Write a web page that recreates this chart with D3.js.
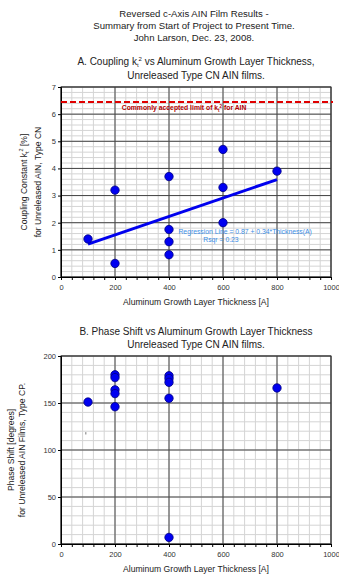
<!DOCTYPE html>
<html>
<head>
<meta charset="utf-8">
<script src="https://cdn.jsdelivr.net/npm/d3@7"></script>
<style>
  body { margin: 0; background: #fff; }
  svg { display: block; font-family: "Liberation Sans", Arial, sans-serif; }
</style>
</head>
<body>
<svg id="chart" width="339" height="578"></svg>
<script>
// chart A: coupling constant vs thickness
const couplingThickness = [100, 200, 200, 400, 400, 400, 400, 600, 600, 600, 800];
const couplingValues = [1.4, 3.2, 0.5, 3.7, 1.75, 1.3, 0.82, 4.7, 3.3, 2.0, 3.9];
const regressionEnds = [100, 800];
const regIntercept = 0.87, regSlope = 0.34; // per 100 A
const k2Limit = 6.45;

// chart B: phase shift vs thickness
const phaseThickness = [100, 200, 200, 200, 200, 200, 400, 400, 400, 400, 400, 800];
const phaseValues = [151, 180, 177, 164, 160, 146, 179, 176, 172, 155, 7, 166];

const xTicks = [0, 200, 400, 600, 800, 1000];
const yTicksA = [0, 1, 2, 3, 4, 5, 6, 7];
const yTicksB = [0, 50, 100, 150, 200];

const svg = d3.select('#chart');

// page titles
const titles = [
  ['Reversed c-Axis AIN Film Results -', 17],
  ['Summary from Start of Project to Present Time.', 29],
  ['John Larson, Dec. 23, 2008.', 41]
];
titles.forEach(([t, y]) => {
  svg.append('text').attr('x', 194).attr('y', y).attr('text-anchor', 'middle')
    .attr('font-size', 9.6).attr('fill', '#222').text(t);
});

function drawPanel(opt) {
  const x = d3.scaleLinear().domain([0, 1000]).range([61, 331]);
  const y = d3.scaleLinear().domain(opt.yDomain).range([opt.bottom, opt.top]);
  const g = svg.append('g');

  // minor grid
  const xMinor = d3.range(0, 1001, 40);
  const yMinor = d3.range(opt.yDomain[0], opt.yDomain[1] + 1e-9, opt.yMinorStep);
  g.append('g').selectAll('line').data(xMinor).join('line')
    .attr('x1', d => x(d)).attr('x2', d => x(d))
    .attr('y1', opt.top).attr('y2', opt.bottom)
    .attr('stroke', '#d4d4d4').attr('stroke-width', 1);
  g.append('g').selectAll('line').data(yMinor).join('line')
    .attr('y1', d => y(d)).attr('y2', d => y(d))
    .attr('x1', 61).attr('x2', 331)
    .attr('stroke', '#d4d4d4').attr('stroke-width', 1);

  // major grid
  g.append('g').selectAll('line').data(xTicks).join('line')
    .attr('x1', d => x(d)).attr('x2', d => x(d))
    .attr('y1', opt.top).attr('y2', opt.bottom)
    .attr('stroke', '#444').attr('stroke-width', 1);
  g.append('g').selectAll('line').data(opt.yTicks).join('line')
    .attr('y1', d => y(d)).attr('y2', d => y(d))
    .attr('x1', 61).attr('x2', 331)
    .attr('stroke', '#444').attr('stroke-width', 1);

  // frame
  g.append('rect').attr('x', 61).attr('y', opt.top)
    .attr('width', 270).attr('height', opt.bottom - opt.top)
    .attr('fill', 'none').attr('stroke', '#333').attr('stroke-width', 1);

  // axes
  const xAxis = g.append('g').attr('transform', `translate(0,${opt.bottom})`)
    .call(d3.axisBottom(x).tickValues(xMinor).tickSize(3).tickFormat(d => xTicks.includes(d) ? d : ''));
  xAxis.select('.domain').attr('stroke', '#000');
  xAxis.selectAll('.tick line').attr('stroke', '#000');
  xAxis.selectAll('text').attr('font-size', 7.5).attr('fill', '#333').attr('dy', '0.9em')
    .attr('font-family', '"Liberation Sans", Arial, sans-serif');

  const yAxis = g.append('g').attr('transform', 'translate(61,0)')
    .call(d3.axisLeft(y).tickValues(opt.yTicks).tickSize(3).tickFormat(d3.format('d')));
  yAxis.select('.domain').attr('stroke', '#000');
  yAxis.selectAll('.tick line').attr('stroke', '#000');
  yAxis.selectAll('text').attr('font-size', 7.5).attr('fill', '#333').attr('x', -5)
    .attr('font-family', '"Liberation Sans", Arial, sans-serif');

  // x axis title
  g.append('text').attr('x', 196).attr('y', opt.bottom + 28).attr('text-anchor', 'middle')
    .attr('font-size', 8.6).attr('fill', '#222').text('Aluminum Growth Layer Thickness [A]');

  return {g, x, y};
}

// ---- Panel A ----
svg.append('text').attr('x', 196).attr('y', 65).attr('text-anchor', 'middle')
  .attr('font-size', 10).attr('fill', '#222')
  .call(t => {
    t.append('tspan').text('A. Coupling k');
    t.append('tspan').attr('font-size', 6).attr('dy', 2).text('t');
    t.append('tspan').attr('font-size', 6).attr('dy', -6).text('2');
    t.append('tspan').attr('dy', 4).text(' vs Aluminum Growth Layer Thickness,');
  });
svg.append('text').attr('x', 196).attr('y', 79).attr('text-anchor', 'middle')
  .attr('font-size', 10).attr('fill', '#222').text('Unreleased Type CN AIN films.');

const A = drawPanel({top: 87, bottom: 277, yDomain: [0, 7], yTicks: yTicksA, yMinorStep: 0.2});

// limit line
A.g.append('line').attr('x1', A.x(0)).attr('x2', A.x(1000) + 2)
  .attr('y1', A.y(k2Limit)).attr('y2', A.y(k2Limit))
  .attr('stroke', '#e00000').attr('stroke-width', 2).attr('stroke-dasharray', '6,3');
A.g.append('text').attr('x', A.x(225)).attr('y', A.y(6.15))
  .attr('font-size', 6.8).attr('font-weight', 'bold').attr('fill', '#b00000')
  .call(t => {
    t.append('tspan').text('Commonly accepted limit of k');
    t.append('tspan').attr('font-size', 4.5).attr('dy', 1.5).text('t');
    t.append('tspan').attr('font-size', 4.5).attr('dy', -4).text('2');
    t.append('tspan').attr('dy', 2.5).text(' for AIN');
  });

// regression line
A.g.append('line')
  .attr('x1', A.x(regressionEnds[0])).attr('y1', A.y(regIntercept + regSlope * regressionEnds[0] / 100))
  .attr('x2', A.x(regressionEnds[1])).attr('y2', A.y(regIntercept + regSlope * regressionEnds[1] / 100))
  .attr('stroke', '#0000ee').attr('stroke-width', 3);
A.g.append('text').attr('x', A.x(435)).attr('y', A.y(1.6))
  .attr('font-size', 6.8).attr('fill', '#3a8ee6')
  .text('Regression Line = 0.87 + 0.34*Thickness(A)');
A.g.append('text').attr('x', A.x(527)).attr('y', A.y(1.3))
  .attr('font-size', 6.8).attr('fill', '#3a8ee6').text('Rsqr = 0.23');

A.g.append('g').selectAll('circle').data(couplingThickness).join('circle')
  .attr('cx', d => A.x(d)).attr('cy', (d, i) => A.y(couplingValues[i]))
  .attr('r', 4.2).attr('fill', '#0000f0').attr('stroke', '#000080').attr('stroke-width', 0.8);

// y title A
svg.append('text').attr('transform', 'translate(27,182) rotate(-90)').attr('text-anchor', 'middle')
  .attr('font-size', 8.6).attr('fill', '#222')
  .call(t => {
    t.append('tspan').text('Coupling Constant k');
    t.append('tspan').attr('font-size', 5.5).attr('dy', 2).text('t');
    t.append('tspan').attr('font-size', 5.5).attr('dy', -6).text('2');
    t.append('tspan').attr('dy', 4).text(' [%]');
  });
svg.append('text').attr('transform', 'translate(41,182) rotate(-90)').attr('text-anchor', 'middle')
  .attr('font-size', 8.6).attr('fill', '#222').text('for Unreleased AIN, Type CN');

// ---- Panel B ----
svg.append('text').attr('x', 196).attr('y', 335).attr('text-anchor', 'middle')
  .attr('font-size', 10).attr('fill', '#222').text('B. Phase Shift vs Aluminum Growth Layer Thickness');
svg.append('text').attr('x', 196).attr('y', 348).attr('text-anchor', 'middle')
  .attr('font-size', 10).attr('fill', '#222').text('Unreleased Type CN AIN films.');

const B = drawPanel({top: 356, bottom: 544, yDomain: [0, 200], yTicks: yTicksB, yMinorStep: 10});

// stray mark from the source image
B.g.append('line').attr('x1', B.x(92)).attr('x2', B.x(92))
  .attr('y1', B.y(119)).attr('y2', B.y(116.5)).attr('stroke', '#777').attr('stroke-width', 1);

B.g.append('g').selectAll('circle').data(phaseThickness).join('circle')
  .attr('cx', d => B.x(d)).attr('cy', (d, i) => B.y(phaseValues[i]))
  .attr('r', 4.2).attr('fill', '#0000f0').attr('stroke', '#000080').attr('stroke-width', 0.8);

svg.append('text').attr('transform', 'translate(14,450) rotate(-90)').attr('text-anchor', 'middle')
  .attr('font-size', 8.6).attr('fill', '#222').text('Phase Shift [degrees]');
svg.append('text').attr('transform', 'translate(25,450) rotate(-90)').attr('text-anchor', 'middle')
  .attr('font-size', 8.6).attr('fill', '#222').text('for Unreleased AIN Films, Type CP.');
</script>
</body>
</html>
